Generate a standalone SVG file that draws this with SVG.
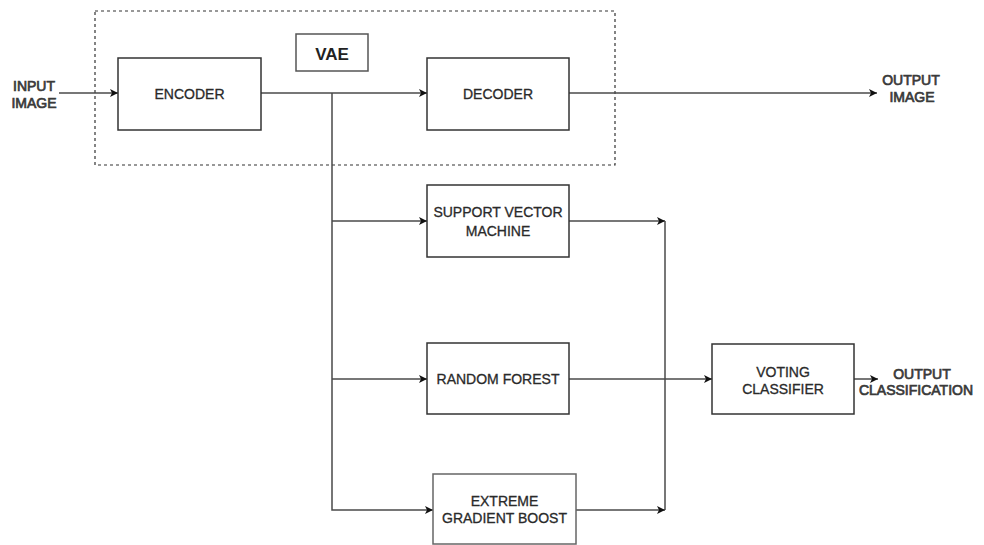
<svg xmlns="http://www.w3.org/2000/svg" width="984" height="545" viewBox="0 0 984 545">
<defs>
<marker id="arr" viewBox="0 0 10 10" refX="10" refY="5" markerWidth="8" markerHeight="8" markerUnits="userSpaceOnUse" orient="auto">
<path d="M0,0 L10,5 L0,10 L2.5,5 Z" fill="#111"/>
</marker>
<style>
.box{fill:#fff;stroke:#333;stroke-width:1.5}
.lbl{font-family:"Liberation Sans",Arial,sans-serif;font-size:14px;fill:#2a2a2a;stroke:#2a2a2a;stroke-width:0.3;text-anchor:middle}
.out{font-family:"Liberation Sans",Arial,sans-serif;font-size:14px;fill:#3a3a3a;stroke:#3a3a3a;stroke-width:0.7;text-anchor:middle}
.ln{fill:none;stroke:#4a4a4a;stroke-width:1.5}
.ar{fill:none;stroke:#4a4a4a;stroke-width:1.5;marker-end:url(#arr)}
</style>
</defs>
<rect width="984" height="545" fill="#fff"/>
<g id="vae-frame">
<rect x="95" y="11" width="520" height="154" fill="none" stroke="#333" stroke-width="1.2" stroke-dasharray="3,3"/>
</g>
<g id="connectors">
<line class="ar" x1="59" y1="93" x2="118" y2="93"/>
<line class="ar" x1="261" y1="93" x2="427" y2="93"/>
<line class="ar" x1="569" y1="93" x2="877" y2="93"/>
<polyline class="ar" points="332,93 332,510 433,510"/>
<line class="ar" x1="332" y1="221" x2="427" y2="221"/>
<line class="ar" x1="332" y1="379" x2="427" y2="379"/>
<line class="ar" x1="569" y1="221" x2="665" y2="221"/>
<line class="ln" x1="665" y1="221" x2="665" y2="510"/>
<line class="ar" x1="576" y1="510" x2="665" y2="510"/>
<line class="ar" x1="569" y1="379" x2="712" y2="379"/>
<line class="ar" x1="854" y1="379" x2="878" y2="379"/>
</g>
<g id="input-label">
<text class="out" x="34" y="91">INPUT</text>
<text class="out" x="34" y="108">IMAGE</text>
</g>
<g id="vae-label">
<rect x="296" y="34" width="72" height="37" fill="#fff" stroke="#555" stroke-width="1.5"/>
<text x="332" y="60" font-family="'Liberation Sans',Arial,sans-serif" font-size="17" font-weight="bold" fill="#222" text-anchor="middle">VAE</text>
</g>
<g id="encoder">
<rect class="box" x="118" y="58" width="143" height="72"/>
<text class="lbl" x="189.5" y="99">ENCODER</text>
</g>
<g id="decoder">
<rect class="box" x="427" y="58" width="142" height="72"/>
<text class="lbl" x="498" y="99">DECODER</text>
</g>
<g id="output-image">
<text class="out" x="911" y="85">OUTPUT</text>
<text class="out" x="912" y="102">IMAGE</text>
</g>
<g id="svm">
<rect class="box" x="427" y="185" width="142" height="72"/>
<text class="lbl" x="498" y="217">SUPPORT VECTOR</text>
<text class="lbl" x="498" y="236">MACHINE</text>
</g>
<g id="random-forest">
<rect class="box" x="427" y="343" width="142" height="71"/>
<text class="lbl" x="498" y="384">RANDOM FOREST</text>
</g>
<g id="xgboost">
<rect x="433" y="474" width="143" height="70" fill="#fff" stroke="#666" stroke-width="1.5"/>
<text class="lbl" x="504.5" y="506">EXTREME</text>
<text class="lbl" x="504.5" y="523">GRADIENT BOOST</text>
</g>
<g id="voting-classifier">
<rect class="box" x="712" y="344" width="142" height="70"/>
<text class="lbl" x="783" y="377">VOTING</text>
<text class="lbl" x="783" y="394">CLASSIFIER</text>
</g>
<g id="output-classification">
<text class="out" x="922" y="379">OUTPUT</text>
<text class="out" x="916" y="395">CLASSIFICATION</text>
</g>
</svg>
